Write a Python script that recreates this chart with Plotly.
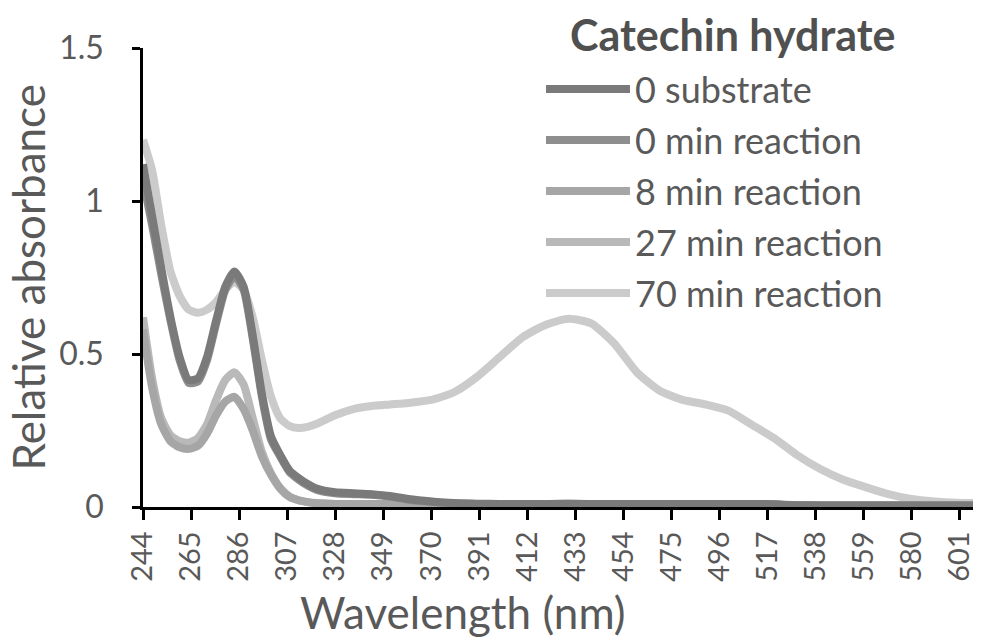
import plotly.graph_objects as go

wavelength = [244, 248, 252, 256, 260, 264, 268, 272, 276, 280, 284, 288, 292, 296, 300,
              304, 308, 312, 316, 320, 328, 336, 344, 352, 360, 370, 380, 390, 400, 410,
              420, 430, 440, 450, 460, 470, 480, 490, 500, 510, 520, 530, 540, 550, 560,
              570, 580, 590, 600, 607]

substrate_0 = [1.12, 0.95, 0.78, 0.62, 0.49, 0.415, 0.42, 0.49, 0.61, 0.72, 0.77, 0.72, 0.56, 0.37, 0.23,
               0.17, 0.12, 0.095, 0.075, 0.06, 0.048, 0.045, 0.042, 0.036, 0.026, 0.018, 0.013, 0.011, 0.01, 0.01,
               0.01, 0.01, 0.01, 0.01, 0.01, 0.01, 0.01, 0.01, 0.01, 0.01, 0.009, 0.006, 0.005, 0.005, 0.005,
               0.005, 0.005, 0.005, 0.005, 0.005]
min_0 = [1.07, 0.92, 0.76, 0.61, 0.48, 0.405, 0.41, 0.48, 0.60, 0.71, 0.755, 0.71, 0.55, 0.36, 0.22,
         0.165, 0.115, 0.09, 0.07, 0.056, 0.045, 0.042, 0.04, 0.034, 0.024, 0.017, 0.012, 0.01, 0.01, 0.01,
         0.01, 0.01, 0.01, 0.01, 0.01, 0.01, 0.01, 0.01, 0.01, 0.01, 0.008, 0.005, 0.005, 0.005, 0.005,
         0.005, 0.005, 0.005, 0.005, 0.005]
min_8 = [0.58, 0.39, 0.27, 0.215, 0.195, 0.19, 0.2, 0.24, 0.30, 0.345, 0.36, 0.32, 0.25, 0.165, 0.105,
         0.06, 0.033, 0.022, 0.016, 0.012, 0.01, 0.01, 0.01, 0.01, 0.01, 0.01, 0.01, 0.01, 0.01, 0.01,
         0.01, 0.01, 0.01, 0.01, 0.01, 0.01, 0.01, 0.01, 0.01, 0.01, 0.008, 0.005, 0.005, 0.005, 0.005,
         0.005, 0.005, 0.005, 0.005, 0.005]
min_27 = [0.62, 0.42, 0.29, 0.235, 0.215, 0.21, 0.225, 0.27, 0.35, 0.415, 0.44, 0.40, 0.29, 0.18, 0.11,
          0.063, 0.035, 0.022, 0.016, 0.013, 0.01, 0.01, 0.01, 0.01, 0.01, 0.01, 0.01, 0.01, 0.01, 0.01,
          0.01, 0.012, 0.01, 0.01, 0.01, 0.01, 0.01, 0.01, 0.01, 0.01, 0.008, 0.005, 0.005, 0.005, 0.005,
          0.005, 0.005, 0.005, 0.005, 0.005]
min_70 = [1.20, 1.10, 0.92, 0.77, 0.69, 0.645, 0.635, 0.645, 0.67, 0.71, 0.735, 0.71, 0.62, 0.48, 0.36,
          0.29, 0.265, 0.258, 0.262, 0.272, 0.30, 0.32, 0.33, 0.335, 0.34, 0.35, 0.375, 0.425, 0.49, 0.555,
          0.595, 0.615, 0.60, 0.535, 0.44, 0.38, 0.35, 0.335, 0.315, 0.27, 0.225, 0.17, 0.125, 0.09, 0.065,
          0.042, 0.026, 0.018, 0.014, 0.013]

series_names = ["0 substrate", "0 min reaction", "8 min reaction", "27 min reaction", "70 min reaction"]
series_values = [substrate_0, min_0, min_8, min_27, min_70]
series_colors = ["#7a7a7a", "#8e8e8e", "#a6a6a6", "#b9b9b9", "#cbcbcb"]

tick_vals = [244, 265, 286, 307, 328, 349, 370, 391, 412, 433, 454, 475, 496, 517, 538, 559, 580, 601]
tick_text = [str(v) for v in tick_vals]
y_ticks = [0, 0.5, 1, 1.5]
y_tick_text = ["0", "0.5", "1", "1.5"]

FONT = "Lato, 'Open Sans', sans-serif"
TXT = "#595959"

fig = go.Figure()
# draw lightest first so darker lines sit on top
for name, vals, col in reversed(list(zip(series_names, series_values, series_colors))):
    fig.add_trace(go.Scatter(x=wavelength, y=vals, name=name, mode="lines",
                             line=dict(color=col, width=8, shape="spline", smoothing=0.6),
                             showlegend=False, cliponaxis=False))

W, H = 986, 642
L, R, T, B = 143, 13, 48, 135
pw, ph = W - L - R, H - T - B

def px(xp):
    return (xp - L) / pw

def py(yp):
    return (H - B - yp) / ph

shapes = []
annotations = []
for i, (name, col) in enumerate(zip(series_names, series_colors)):
    yy = py(89 + 51 * i)
    shapes.append(dict(type="line", xref="paper", yref="paper", x0=px(546), x1=px(630),
                       y0=yy, y1=yy, line=dict(color=col, width=8)))
    annotations.append(dict(text=name, xref="paper", yref="paper", x=px(633), y=yy,
                            xanchor="left", yanchor="middle", showarrow=False,
                            font=dict(family=FONT, size=36, color=TXT)))
annotations.append(dict(text="<b>Catechin hydrate</b>", xref="paper", yref="paper",
                        x=px(733), y=py(34), xanchor="center", yanchor="middle", showarrow=False,
                        font=dict(family=FONT, size=43, color="#505050")))
annotations.append(dict(text="Wavelength (nm)", xref="paper", yref="paper",
                        x=px(463), y=py(612), xanchor="center", yanchor="middle", showarrow=False,
                        font=dict(family=FONT, size=44, color=TXT)))
annotations.append(dict(text="Relative absorbance", xref="paper", yref="paper",
                        x=px(27), y=0.5, xanchor="center", yanchor="middle", showarrow=False,
                        textangle=-90, font=dict(family=FONT, size=44, color=TXT)))

fig.update_layout(
    width=W, height=H,
    margin=dict(l=L, r=R, t=T, b=B, pad=0),
    plot_bgcolor="white", paper_bgcolor="white",
    shapes=shapes, annotations=annotations,
    xaxis=dict(range=[244, 607], tickmode="array", tickvals=tick_vals, ticktext=tick_text,
               tickangle=-90, ticks="outside", ticklen=10, tickwidth=2.5, tickcolor="black",
               showline=True, linecolor="black", linewidth=2.5, showgrid=False, zeroline=False,
               tickfont=dict(family=FONT, size=29, color=TXT), layer="below traces"),
    yaxis=dict(range=[0, 1.5], tickmode="array", tickvals=y_ticks, ticktext=y_tick_text,
               ticks="outside", ticklen=8, tickwidth=2.5, tickcolor="black",
               showline=True, linecolor="black", linewidth=2.5, showgrid=False, zeroline=False,
               tickfont=dict(family=FONT, size=32, color=TXT), layer="below traces",
               ticklabelstandoff=22),
)

fig.write_html("out.html")
